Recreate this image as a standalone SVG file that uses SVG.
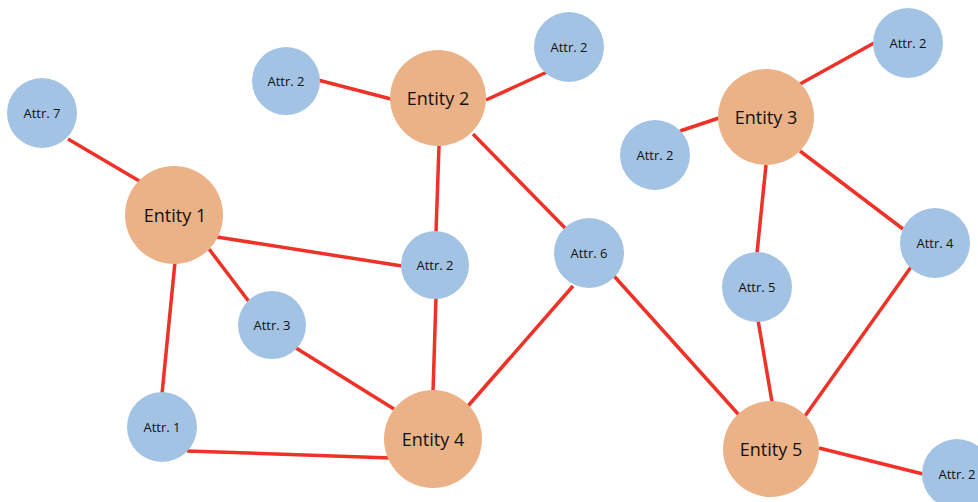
<svg xmlns="http://www.w3.org/2000/svg" width="978" height="502" viewBox="0 0 978 502">
<style>
.e{fill:#EBB287}
.a{fill:#A3C3E4}
.c line{stroke:#EE3227;stroke-width:3.5;stroke-linecap:butt}
.et{font-family:"Open Sans","Liberation Sans",sans-serif;font-size:18px;fill:#111;text-anchor:middle}
.at{font-family:"Open Sans","Liberation Sans",sans-serif;font-size:13px;fill:#111;text-anchor:middle}
</style>
<rect width="978" height="502" fill="#fff"/>
<g class="c" id="connectors">
<line x1="68" y1="139" x2="141" y2="182"/>
<line x1="318" y1="80" x2="391" y2="99"/>
<line x1="486" y1="100" x2="547" y2="72"/>
<line x1="439" y1="146" x2="436" y2="232"/>
<line x1="473" y1="134" x2="566" y2="229"/>
<line x1="217" y1="237" x2="402" y2="266"/>
<line x1="209" y1="249" x2="250" y2="303"/>
<line x1="175" y1="262" x2="162" y2="394"/>
<line x1="296" y1="348" x2="394" y2="409"/>
<line x1="436" y1="297" x2="433" y2="392"/>
<line x1="187" y1="451" x2="391" y2="458"/>
<line x1="573" y1="286" x2="468" y2="406"/>
<line x1="614" y1="276" x2="739" y2="415"/>
<line x1="800" y1="84" x2="874" y2="43"/>
<line x1="680" y1="131" x2="719" y2="118"/>
<line x1="766" y1="165" x2="757" y2="253"/>
<line x1="800" y1="151" x2="903" y2="229"/>
<line x1="758" y1="320" x2="772" y2="402"/>
<line x1="911" y1="267" x2="805" y2="416"/>
<line x1="819" y1="448" x2="923" y2="474"/>
</g>
<g id="attr7"><circle class="a" cx="42" cy="113" r="35"/><text class="at" x="42" y="118">Attr. 7</text></g>
<g id="entity1"><circle class="e" cx="174" cy="215" r="49"/><text class="et" x="175" y="222">Entity 1</text></g>
<g id="attr2a"><circle class="a" cx="286" cy="81" r="34"/><text class="at" x="286" y="86">Attr. 2</text></g>
<g id="entity2"><circle class="e" cx="438" cy="98" r="48"/><text class="et" x="438" y="105">Entity 2</text></g>
<g id="attr2b"><circle class="a" cx="569" cy="47" r="35"/><text class="at" x="569" y="52">Attr. 2</text></g>
<g id="attr2c"><circle class="a" cx="435" cy="265" r="34"/><text class="at" x="435" y="270">Attr. 2</text></g>
<g id="attr3"><circle class="a" cx="272" cy="325" r="34"/><text class="at" x="272" y="330">Attr. 3</text></g>
<g id="attr1"><circle class="a" cx="162" cy="427" r="35"/><text class="at" x="162" y="432">Attr. 1</text></g>
<g id="entity4"><circle class="e" cx="433" cy="439" r="49"/><text class="et" x="433" y="446">Entity 4</text></g>
<g id="attr6"><circle class="a" cx="589" cy="253" r="35"/><text class="at" x="589" y="258">Attr. 6</text></g>
<g id="entity3"><circle class="e" cx="766" cy="117" r="48"/><text class="et" x="766" y="124">Entity 3</text></g>
<g id="attr2d"><circle class="a" cx="908" cy="43" r="35"/><text class="at" x="908" y="48">Attr. 2</text></g>
<g id="attr2e"><circle class="a" cx="655" cy="155" r="35"/><text class="at" x="655" y="160">Attr. 2</text></g>
<g id="attr4"><circle class="a" cx="935" cy="243" r="35"/><text class="at" x="935" y="248">Attr. 4</text></g>
<g id="attr5"><circle class="a" cx="757" cy="287" r="35"/><text class="at" x="757" y="292">Attr. 5</text></g>
<g id="entity5"><circle class="e" cx="771" cy="449" r="48"/><text class="et" x="771" y="456">Entity 5</text></g>
<g id="attr2f"><circle class="a" cx="957" cy="474" r="35"/><text class="at" x="957" y="479">Attr. 2</text></g>
</svg>
